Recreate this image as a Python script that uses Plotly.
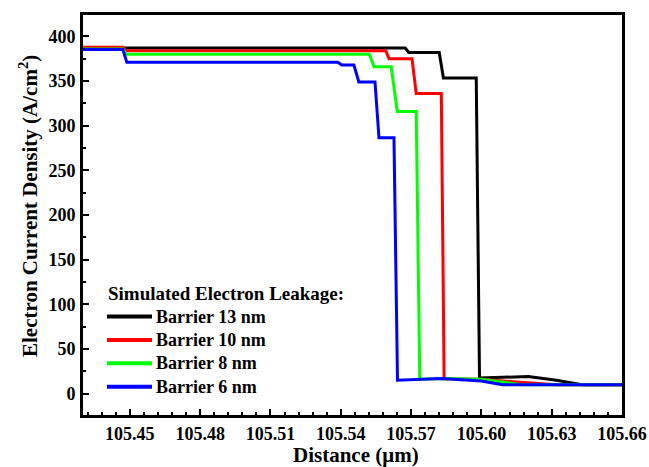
import plotly.graph_objects as go

# ---------------- data ----------------
dist_13 = [105.43, 105.448, 105.5675, 105.569, 105.582, 105.5838, 105.5978, 105.5992, 105.61, 105.62, 105.632, 105.643, 105.66]
cur_13 = [387, 387, 387, 382, 382, 353.5, 353.5, 17.5, 18, 19, 15, 10, 10]

dist_10 = [105.43, 105.447, 105.4485, 105.5592, 105.5606, 105.5704, 105.5722, 105.5829, 105.5841, 105.60, 105.615, 105.632, 105.66]
cur_10 = [388, 388, 384, 384, 375, 375, 336, 336, 16.5, 16, 13, 10, 10]

dist_8 = [105.43, 105.447, 105.4485, 105.5522, 105.5542, 105.5615, 105.5641, 105.5722, 105.5737, 105.585, 105.60, 105.617, 105.66]
cur_8 = [386, 386, 380, 380, 366, 366, 316, 316, 16, 17, 16, 10, 10]

dist_6 = [105.43, 105.447, 105.4487, 105.5387, 105.5404, 105.5456, 105.5477, 105.5546, 105.5563, 105.5627, 105.5642, 105.583, 105.60, 105.609, 105.66]
cur_6 = [385.5, 385.5, 371, 371, 368, 368, 349, 349, 286.5, 286.5, 15, 17, 14, 10, 10]

series_names = ["Barrier 13 nm", "Barrier 10 nm", "Barrier 8 nm", "Barrier 6 nm"]
series_colors = ["#000000", "#FF0000", "#00FF00", "#0000FF"]
legend_title = "Simulated Electron Leakage:"
x_title = "Distance (μm)"
y_title = "Electron Current Density (A/cm<sup>2</sup>)"

x_tickvals = [105.45, 105.48, 105.51, 105.54, 105.57, 105.60, 105.63, 105.66]
x_ticktext = ["105.45", "105.48", "105.51", "105.54", "105.57", "105.60", "105.63", "105.66"]
y_tickvals = [0, 50, 100, 150, 200, 250, 300, 350, 400]

# ---------------- figure ----------------
W, H = 649, 467
L, R, T, B = 83, 27, 15, 52
PW, PH = W - L - R, H - T - B

FONT = "Liberation Serif, Times New Roman, serif"

fig = go.Figure()
xs = [dist_13, dist_10, dist_8, dist_6]
ys = [cur_13, cur_10, cur_8, cur_6]
for x, y, n, c in zip(xs, ys, series_names, series_colors):
    fig.add_trace(go.Scatter(x=x, y=y, mode="lines", name=n,
                             line=dict(color=c, width=3), showlegend=False))


def px2paper(px, py):
    """page pixel position -> paper coordinates"""
    return (px - L) / PW, (H - B - py) / PH


# manual legend
tx, ty = px2paper(106, 293)
fig.add_annotation(x=tx, y=ty, xref="paper", yref="paper", text=legend_title,
                   showarrow=False, xanchor="left", yanchor="middle",
                   font=dict(family=FONT, size=19, color="black", weight="bold"))
for i, (n, c) in enumerate(zip(series_names, series_colors)):
    yy = 316.5 + i * 23.4
    x0, y0 = px2paper(107, yy)
    x1, _ = px2paper(152, yy)
    fig.add_shape(type="line", xref="paper", yref="paper", x0=x0, x1=x1, y0=y0, y1=y0,
                  line=dict(color=c, width=4))
    lx, ly = px2paper(154, yy)
    fig.add_annotation(x=lx, y=ly, xref="paper", yref="paper", text=n,
                       showarrow=False, xanchor="left", yanchor="middle",
                       font=dict(family=FONT, size=18, color="black", weight="bold"))

# axis titles as annotations (positioned as in the reference)
ax_x, ax_y = px2paper(356, 455)
fig.add_annotation(x=ax_x, y=ax_y, xref="paper", yref="paper", text=x_title,
                   showarrow=False, xanchor="center", yanchor="middle",
                   font=dict(family=FONT, size=21, color="black", weight="bold"))
ay_x, ay_y = px2paper(28, 206)
fig.add_annotation(x=ay_x, y=ay_y, xref="paper", yref="paper", text=y_title,
                   showarrow=False, xanchor="center", yanchor="middle", textangle=-90,
                   font=dict(family=FONT, size=21, color="black", weight="bold"))

axis_common = dict(showline=True, linecolor="black", linewidth=3, mirror=True,
                   ticks="inside", ticklen=6, tickwidth=2, tickcolor="black",
                   showgrid=False, zeroline=False,
                   tickfont=dict(family=FONT, size=18, color="black", weight="bold"))

fig.update_xaxes(range=[105.43, 105.66], tickvals=x_tickvals, ticktext=x_ticktext,
                 minor=dict(ticks="inside", ticklen=3, tickwidth=2, tickcolor="black",
                            dtick=0.006, tick0=105.45, showgrid=False),
                 ticklabelstandoff=0,
                 **axis_common)
fig.update_yaxes(range=[-24, 424], tickvals=y_tickvals,
                 minor=dict(ticks="inside", ticklen=3, tickwidth=2, tickcolor="black",
                            dtick=25, tick0=0, showgrid=False),
                 ticklabelstandoff=1,
                 **axis_common)

fig.update_layout(width=W, height=H, margin=dict(l=L, r=R, t=T, b=B, autoexpand=False),
                  paper_bgcolor="white", plot_bgcolor="white", showlegend=False)

fig.write_html("out.html", config={"displayModeBar": False},
               post_script="document.body.style.margin='0';document.body.style.overflow='hidden';")
